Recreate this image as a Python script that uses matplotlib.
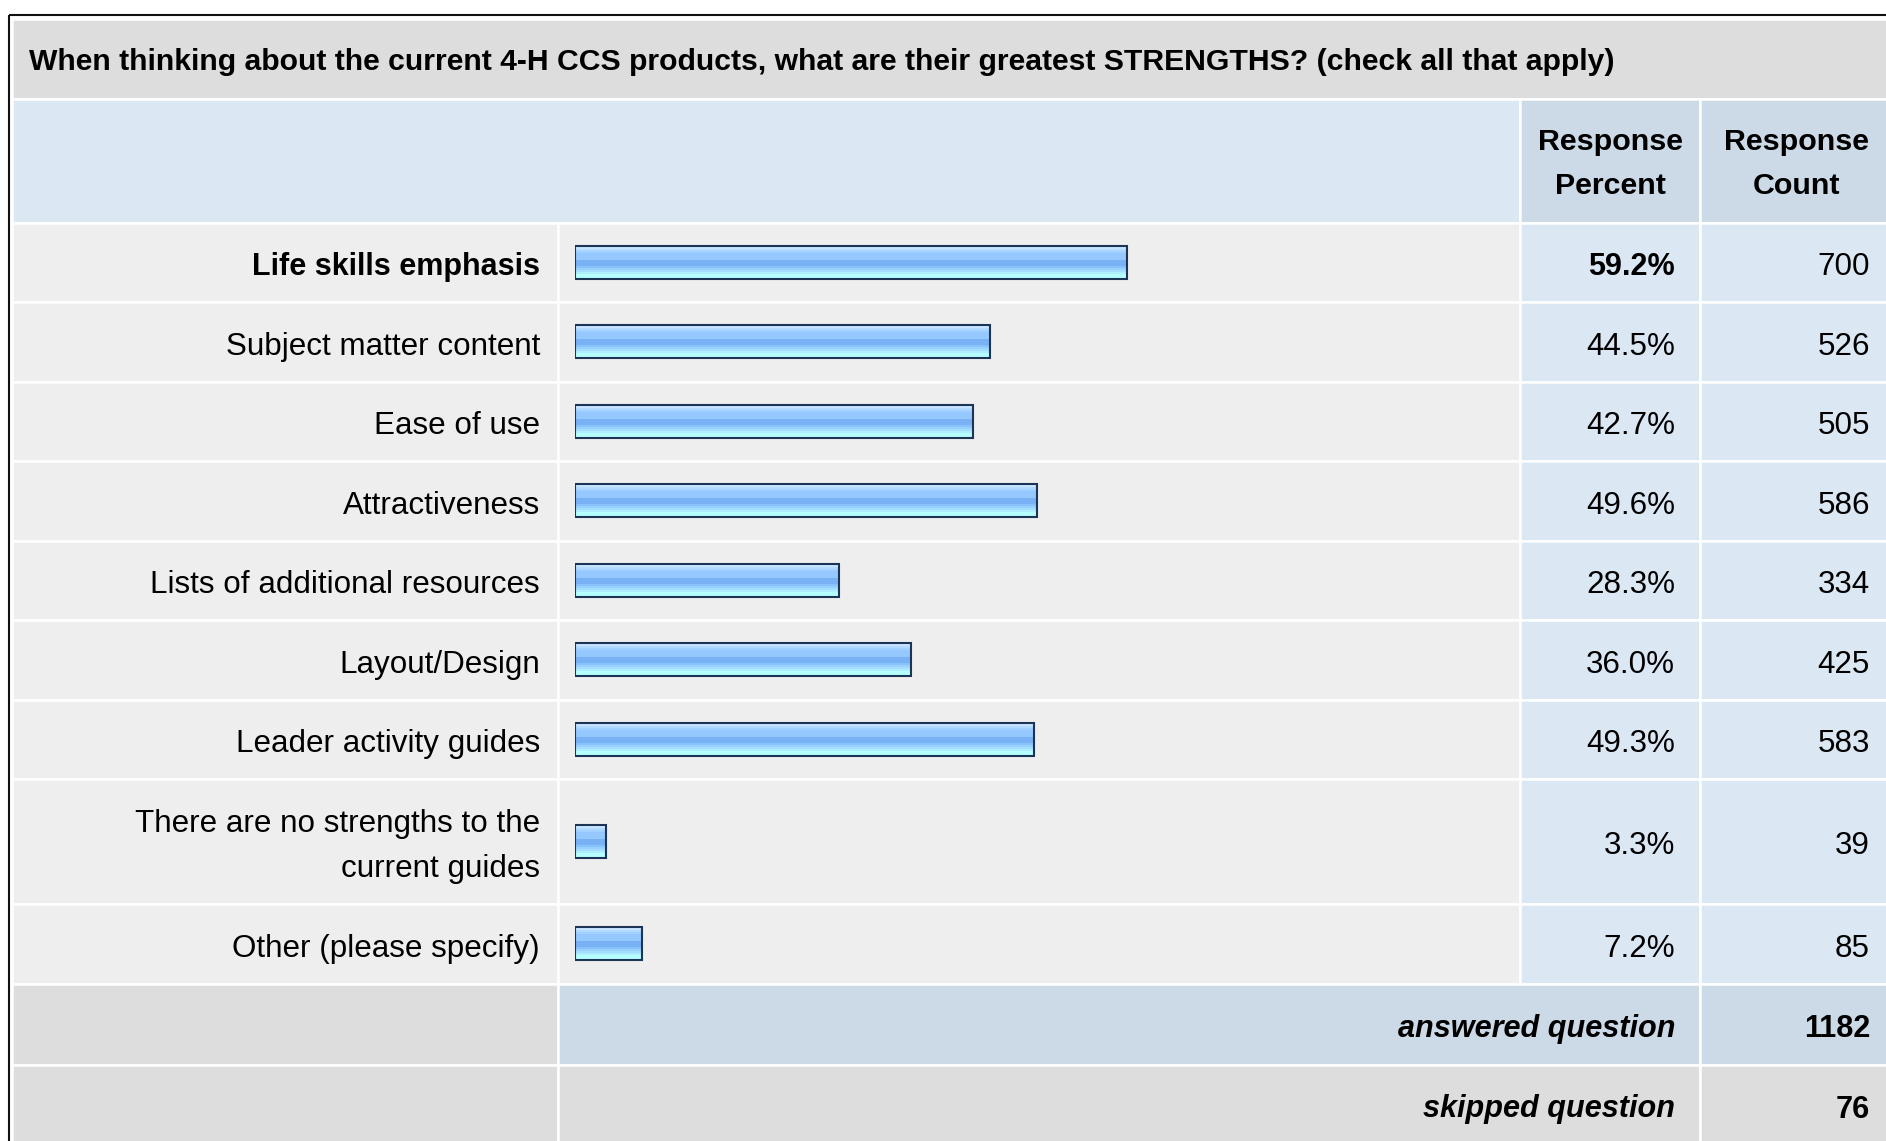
import numpy as np
import matplotlib
matplotlib.use("Agg")
import matplotlib.pyplot as plt
from matplotlib.patches import Rectangle

plt.rcParams['font.family'] = ['Liberation Sans', 'DejaVu Sans']

# --- survey data ---
question = ("When thinking about the current 4-H CCS products, what are their "
            "greatest STRENGTHS? (check all that apply)")
answer_options = [
    "Life skills emphasis",
    "Subject matter content",
    "Ease of use",
    "Attractiveness",
    "Lists of additional resources",
    "Layout/Design",
    "Leader activity guides",
    "There are no strengths to the\ncurrent guides",
    "Other (please specify)",
]
response_percent = [59.2, 44.5, 42.7, 49.6, 28.3, 36.0, 49.3, 3.3, 7.2]
response_count = [700, 526, 505, 586, 334, 425, 583, 39, 85]
answered_question = 1182
skipped_question = 76

# --- colours ---
title_bg = '#DDDDDD'
head_bg = '#DCE7F4'
head_cell_bg = '#CCD9E6'
row_bg = '#EEEEEE'
value_bg = '#DCE7F4'
bar_edge = '#1C3557'
# horizontal stripes of the bar "gradient", top to bottom
stripe_h = [2, 2, 2, 7, 6, 2, 2, 2, 2, 4]
stripe_c = ['#C8E4FF', '#B2D9FF', '#A2D0FF', '#94C8FF', '#78B2F4',
            '#88C2FA', '#98D0FF', '#A4DEFF', '#AEEEFF', '#B6FFFF']

W, H = 1886, 1141
fig = plt.figure(figsize=(W / 100, H / 100), dpi=100)
ax = fig.add_axes([0, 0, 1, 1])
ax.set_xlim(0, W)
ax.set_ylim(H, 0)
ax.axis('off')

# layout in pixels
x_left, x_bar, x_pct, x_cnt, x_right = 12, 558, 1520, 1700, 1900
y_title, y_head, y_rows = 19, 99, 222.5
single_h, double_h = 79.5, 125
fs = 22.6      # regular text
fs_b = 22.1    # bold text
dy = 5         # text sits a bit below the cell middle


def cell(x0, x1, y0, y1, color):
    ax.add_patch(Rectangle((x0, y0), x1 - x0, y1 - y0, facecolor=color,
                           edgecolor='white', linewidth=1.8))


# title row
cell(x_left, x_right, y_title, y_head, title_bg)
ax.text(29, (y_title + y_head) / 2 + 3, question, fontsize=21.7, fontweight='bold',
        ha='left', va='center')

# header row
cell(x_left, x_pct, y_head, y_rows, head_bg)
cell(x_pct, x_cnt, y_head, y_rows, head_cell_bg)
cell(x_cnt, x_right, y_head, y_rows, head_cell_bg)
hy = (y_head + y_rows) / 2 + 3
ax.text((x_pct + x_cnt) / 2, hy, "Response\nPercent", fontsize=21.9, fontweight='bold',
        ha='center', va='center', linespacing=1.74)
ax.text(1797, hy, "Response\nCount", fontsize=21.9, fontweight='bold',
        ha='center', va='center', linespacing=1.74)

# answer rows
heights = [double_h if '\n' in a else single_h for a in answer_options]
tops = y_rows + np.concatenate([[0], np.cumsum(heights)[:-1]])
centers = tops + np.array(heights) / 2
best = int(np.argmax(response_percent))

for i, (label, pct, cnt) in enumerate(zip(answer_options, response_percent, response_count)):
    y0, y1 = tops[i], tops[i] + heights[i]
    cell(x_left, x_bar, y0, y1, row_bg)
    cell(x_bar, x_pct, y0, y1, row_bg)
    cell(x_pct, x_cnt, y0, y1, value_bg)
    cell(x_cnt, x_right, y0, y1, value_bg)
    bold = i == best
    size = 22.0 if bold else fs
    wt = 'bold' if bold else 'normal'
    yc = centers[i] + dy
    ax.text(540, yc, label, fontsize=size, fontweight=wt, ha='right', va='center',
            linespacing=1.62)
    ax.text(1675, yc, f"{pct:.1f}%", fontsize=fs_b if bold else fs, fontweight=wt,
            ha='right', va='center')
    ax.text(1870, yc, f"{cnt}", fontsize=fs, ha='right', va='center')

# summary rows
y_ans = tops[-1] + heights[-1]
y_skip = y_ans + 81
cell(x_left, x_bar, y_ans, y_skip, title_bg)
cell(x_bar, x_cnt, y_ans, y_skip, head_cell_bg)
cell(x_cnt, x_right, y_ans, y_skip, head_cell_bg)
cell(x_left, x_bar, y_skip, H + 20, title_bg)
cell(x_bar, x_cnt, y_skip, H + 20, title_bg)
cell(x_cnt, x_right, y_skip, H + 20, title_bg)
ya = (y_ans + y_skip) / 2 + dy
ax.text(1675, ya, "answered question", fontsize=fs_b, fontweight='bold', style='italic',
        ha='right', va='center')
ax.text(1870, ya, f"{answered_question}", fontsize=fs_b, fontweight='bold',
        ha='right', va='center')
ys = y_skip + 40 + dy
ax.text(1675, ys, "skipped question", fontsize=fs_b, fontweight='bold', style='italic',
        ha='right', va='center')
ax.text(1870, ys, f"{skipped_question}", fontsize=fs_b, fontweight='bold',
        ha='right', va='center')

# outer border
ax.plot([9, 9], [15, H], color='#111111', lw=1.5, solid_capstyle='butt')
ax.plot([9, W], [15, 15], color='#111111', lw=1.5, solid_capstyle='butt')

# bars: own axes with a 0-100 % scale over the bar column
bax = fig.add_axes([575 / W, 0, 932 / W, 1])
bax.set_xlim(0, 100)
bax.set_ylim(H, 0)
bax.axis('off')
bax.patch.set_visible(False)

inner = sum(stripe_h)
off = -inner / 2
for h, c in zip(stripe_h, stripe_c):
    bax.barh(centers + off + h / 2, response_percent, height=h, color=c, linewidth=0)
    off += h
bax.barh(centers, response_percent, height=inner + 2, fill=False,
         edgecolor=bar_edge, linewidth=1.5)

fig.savefig("out.png", dpi=100)
